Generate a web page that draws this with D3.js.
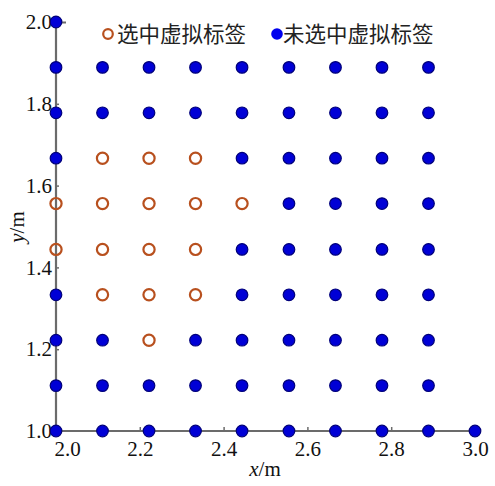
<!DOCTYPE html>
<html>
<head>
<meta charset="utf-8">
<script src="https://cdn.jsdelivr.net/npm/d3@7"></script>
<style>
  html, body { margin: 0; padding: 0; background: #fff; }
  svg { display: block; }
</style>
</head>
<body>
<svg id="chart" width="495" height="486"></svg>
<script>
// ---- data ----
const xGrid = [2.0, 2.111, 2.222, 2.333, 2.444, 2.556, 2.667, 2.778, 2.889, 3.0];
const yGrid = [1.0, 1.111, 1.222, 1.333, 1.444, 1.556, 1.667, 1.778, 1.889, 2.0];
// selected virtual tags (x index, y index)
const selectedX = [2.111, 2.222, 2.333, 2.0, 2.111, 2.222, 2.333, 2.444, 2.0, 2.111, 2.222, 2.333, 2.111, 2.222, 2.333, 2.222];
const selectedY = [1.667, 1.667, 1.667, 1.556, 1.556, 1.556, 1.556, 1.556, 1.444, 1.444, 1.444, 1.444, 1.333, 1.333, 1.333, 1.222];
// extra unselected corner points
const extraX = [2.0, 3.0];
const extraY = [2.0, 1.0];
const xTicks = [2.0, 2.2, 2.4, 2.6, 2.8, 3.0];
const yTicks = [1.0, 1.2, 1.4, 1.6, 1.8, 2.0];
const legendLabels = ["选中虚拟标签", "未选中虚拟标签"];

// ---- build points ----
const selKey = new Set(selectedX.map((x, i) => x + "_" + selectedY[i]));
const unselected = [];
for (let i = 0; i < 9; i++) {
  for (let j = 0; j < 9; j++) {
    const k = xGrid[i] + "_" + yGrid[j];
    if (!selKey.has(k)) unselected.push({x: xGrid[i], y: yGrid[j]});
  }
}
extraX.forEach((x, i) => unselected.push({x, y: extraY[i]}));
const selected = selectedX.map((x, i) => ({x, y: selectedY[i]}));

// ---- scales ----
const svg = d3.select("#chart");
const x = d3.scaleLinear().domain([2.0, 3.0]).range([56, 475]);
const y = d3.scaleLinear().domain([1.0, 2.0]).range([431, 22]);

const axisColor = "#6b6b6b";
const serif = "'Liberation Serif', 'Times New Roman', serif";

// axes
const gx = svg.append("g").attr("transform", `translate(0,${y(1.0)})`)
  .call(d3.axisBottom(x).tickValues(xTicks).tickFormat(d3.format(".1f")).tickSizeInner(-4).tickSizeOuter(0).tickPadding(10));
const gy = svg.append("g").attr("transform", `translate(${x(2.0)},0)`)
  .call(d3.axisLeft(y).tickValues(yTicks).tickFormat(d3.format(".1f")).tickSizeInner(-3).tickSizeOuter(0).tickPadding(4));

[gx, gy].forEach(g => {
  g.select(".domain").attr("stroke", axisColor).attr("stroke-width", 2.2);
  g.selectAll(".tick line").attr("stroke", axisColor).attr("stroke-width", 1.5);
  g.selectAll(".tick text").attr("fill", "#111").style("font-family", serif).style("font-size", "21px");
});
gx.selectAll(".tick text").attr("dy", "0.71em");
gx.selectAll(".tick text").filter(d => d === 2.0).attr("dx", 11);
gy.selectAll(".tick line").filter(d => d === 2.0).attr("x2", 10).attr("stroke-width", 2);

// extend domain lines to corners
gx.select(".domain").attr("d", `M${x(2.0)},0H${x(3.0)}`);
gy.select(".domain").attr("d", `M0,${y(2.0) - 6}V${y(1.0)}`);

// points
const blueFill = "#0000d6", blueStroke = "#00007a", orange = "#b8501e";
svg.append("g").selectAll("circle").data(unselected).join("circle")
  .attr("cx", d => x(d.x)).attr("cy", d => y(d.y)).attr("r", 5.8)
  .attr("fill", blueFill).attr("stroke", blueStroke).attr("stroke-width", 1.2);
svg.append("g").selectAll("circle").data(selected).join("circle")
  .attr("cx", d => x(d.x)).attr("cy", d => y(d.y)).attr("r", 5.6)
  .attr("fill", "none").attr("stroke", orange).attr("stroke-width", 2.2);

// legend
const cjk = "'Noto Sans CJK SC', sans-serif";
const leg = svg.append("g");
leg.append("circle").attr("cx", 108).attr("cy", 34).attr("r", 4.8)
  .attr("fill", "none").attr("stroke", orange).attr("stroke-width", 2.2);
leg.append("text").attr("x", 117).attr("y", 34).attr("dy", "0.36em")
  .style("font-family", cjk).style("font-size", "21.5px").attr("fill", "#222").text(legendLabels[0]);
leg.append("circle").attr("cx", 277).attr("cy", 34).attr("r", 5.8)
  .attr("fill", "#0000ee").attr("stroke", "none");
leg.append("text").attr("x", 283).attr("y", 34).attr("dy", "0.36em")
  .style("font-family", cjk).style("font-size", "21.5px").attr("fill", "#222").text(legendLabels[1]);

// axis titles
const xt = svg.append("text").attr("x", 265).attr("y", 476).attr("text-anchor", "middle")
  .style("font-family", serif).style("font-size", "21px").attr("fill", "#111");
xt.append("tspan").style("font-style", "italic").text("x");
xt.append("tspan").text("/m");
const yt = svg.append("text").attr("transform", "translate(24,227) rotate(-90)").attr("text-anchor", "middle")
  .style("font-family", serif).style("font-size", "21px").attr("fill", "#111");
yt.append("tspan").style("font-style", "italic").text("y");
yt.append("tspan").text("/m");
</script>
</body>
</html>
